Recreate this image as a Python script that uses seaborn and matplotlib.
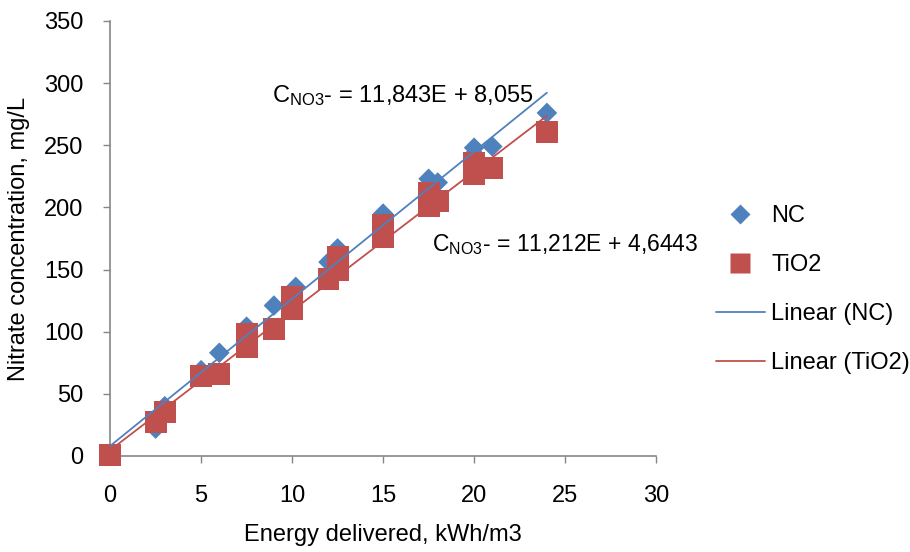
import numpy as np
import pandas as pd
import matplotlib
matplotlib.use("Agg")
import matplotlib.pyplot as plt
import seaborn as sns
from matplotlib.lines import Line2D

nc_energy = [0, 2.5, 3, 5, 6, 7.5, 9, 10, 10.2, 12, 12.5, 15, 17.5, 18, 20, 20, 21, 24]
nc_conc = [0, 22, 40, 69, 83, 104, 121, 130, 136, 156, 167, 195, 223, 220, 243, 248, 249, 276]

tio2_energy = [0, 2.5, 3, 5, 6, 7.5, 7.5, 9, 10, 10, 12, 12.5, 12.5, 15, 15, 17.5, 17.5, 18, 20, 20, 21, 24]
tio2_conc = [1, 27, 35, 64, 66, 88, 98, 102, 118, 128, 142, 150, 160, 176, 186, 201, 212, 205, 227, 236, 232, 261]

# trendline coefficients (slope, intercept) as printed on the chart
nc_fit = (11.843, 8.055)
tio2_fit = (11.212, 4.6443)

x_ticks = [0, 5, 10, 15, 20, 25, 30]
y_ticks = [0, 50, 100, 150, 200, 250, 300, 350]

blue = "#4F81BD"
red = "#C0504D"
grey = "#868686"

sns.set_style("white")
plt.rcParams["font.family"] = ["Liberation Sans", "DejaVu Sans"]
plt.rcParams["text.color"] = "black"
plt.rcParams["mathtext.fontset"] = "custom"
plt.rcParams["mathtext.rm"] = "Liberation Sans"
plt.rcParams["mathtext.it"] = "Liberation Sans"
fs = 17

nc = pd.DataFrame({"E": nc_energy, "C": nc_conc})
tio2 = pd.DataFrame({"E": tio2_energy, "C": tio2_conc})

fig = plt.figure(figsize=(9.1, 5.52), dpi=100)
ax = fig.add_axes([0.121, 0.174, 0.600, 0.788])

sns.scatterplot(data=nc, x="E", y="C", marker="D", s=110, color=blue,
                edgecolor="none", ax=ax, zorder=2)
sns.scatterplot(data=tio2, x="E", y="C", marker="s", s=250, color=red,
                edgecolor="none", ax=ax, zorder=3)
for coll in ax.collections:
    coll.set_clip_on(False)

for df, (k, b), col in [(nc, nc_fit, blue), (tio2, tio2_fit, red)]:
    xs = np.array([df["E"].min(), df["E"].max()])
    ax.plot(xs, k * xs + b, color=col, lw=1.3, zorder=4)

ax.set_xlim(0, 30)
ax.set_ylim(0, 350)
ax.set_xticks(x_ticks)
ax.set_yticks(y_ticks)
ax.tick_params(labelsize=fs, labelcolor="black", length=5, width=1, color=grey,
               direction="out", left=True, bottom=True)
ax.tick_params(axis="x", pad=16)
ax.tick_params(axis="y", pad=14)
for side in ["top", "right"]:
    ax.spines[side].set_visible(False)
for side in ["left", "bottom"]:
    ax.spines[side].set_color(grey)
    ax.spines[side].set_linewidth(1.2)
    ax.spines[side].set_zorder(1)

ax.set_xlabel("Energy delivered, kWh/m3", fontsize=fs, labelpad=12, color="black")
ax.set_ylabel("Nitrate concentration, mg/L", fontsize=fs, labelpad=10, color="black")

ax.text(8.9, 290, r"C$_{\mathrm{NO3}}$- = 11,843E + 8,055", fontsize=fs, va="center")
ax.text(17.7, 170, r"C$_{\mathrm{NO3}}$- = 11,212E + 4,6443", fontsize=16.5, va="center")

handles = [
    Line2D([], [], ls="none", marker="D", ms=10, color=blue, mec="none"),
    Line2D([], [], ls="none", marker="s", ms=14, color=red, mec="none"),
    Line2D([], [], color=blue, lw=1.3),
    Line2D([], [], color=red, lw=1.3),
]
labels = ["NC", "TiO2", "Linear (NC)", "Linear (TiO2)"]
fig.legend(handles, labels, loc="center left", bbox_to_anchor=(0.763, 0.4755),
           frameon=False, fontsize=fs, labelspacing=1.15, handlelength=2.1,
           handletextpad=0.25)

fig.savefig("out.png", dpi=100)
